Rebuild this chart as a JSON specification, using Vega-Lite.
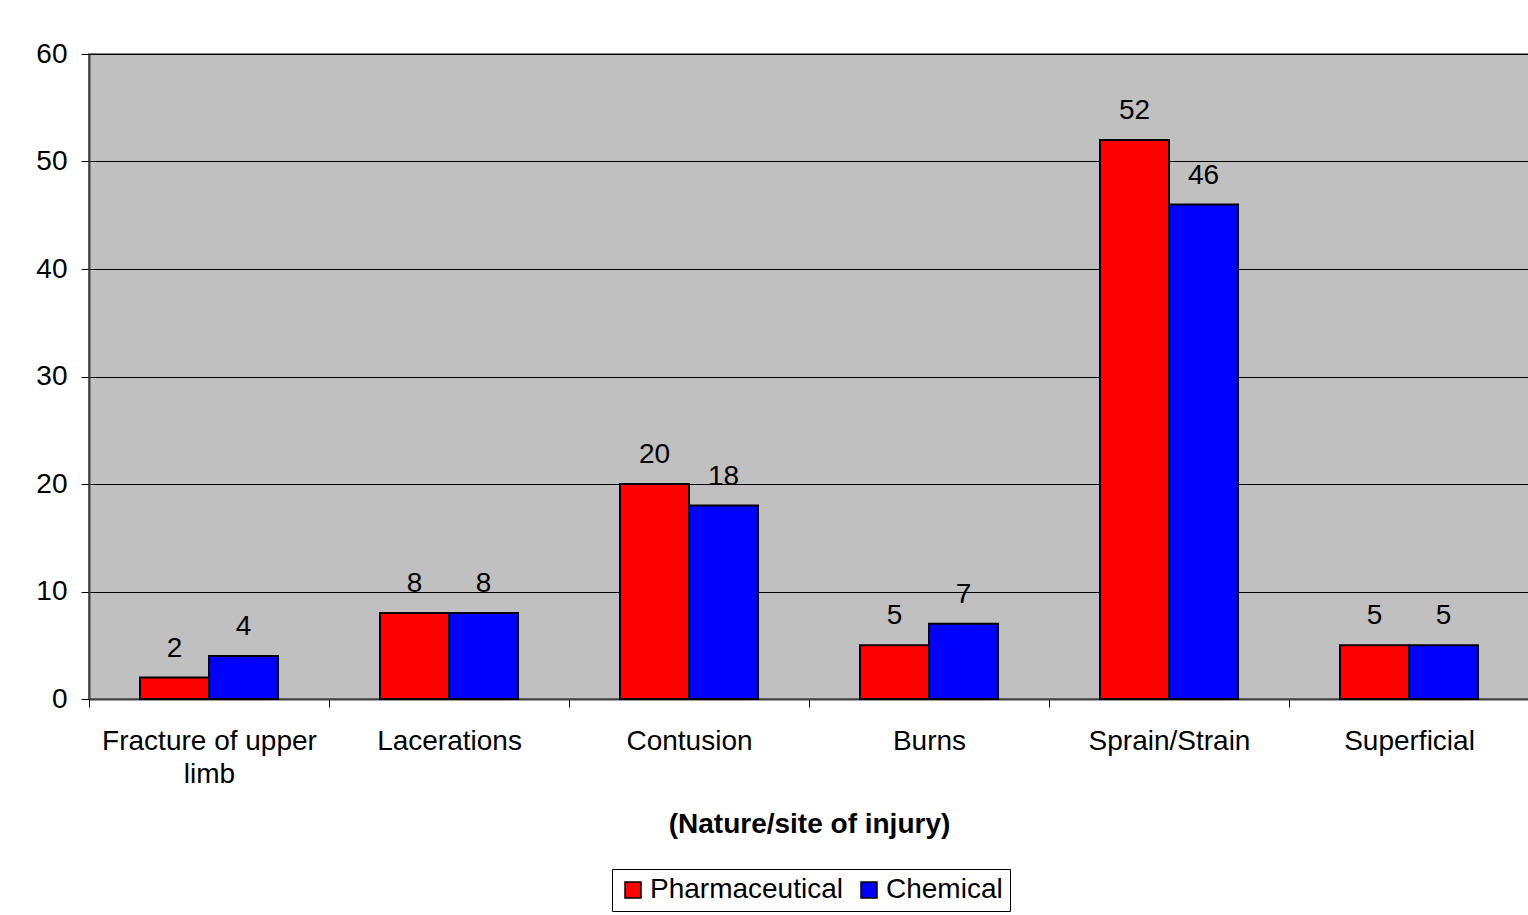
{
  "$schema": "https://vega.github.io/schema/vega-lite/v6.json",
  "autosize": "none",
  "width": 1440,
  "height": 645,
  "padding": {"left": 89, "top": 54, "right": 0, "bottom": 216},
  "background": "white",
  "config": {
    "font": "Liberation Sans",
    "view": {"fill": "#C0C0C0", "stroke": "#808080", "strokeWidth": 2}
  },
  "data": {
    "values": [
      {"injury": "Fracture of upper limb", "sector": "Pharmaceutical", "value": 2},
      {"injury": "Fracture of upper limb", "sector": "Chemical", "value": 4},
      {"injury": "Lacerations", "sector": "Pharmaceutical", "value": 8},
      {"injury": "Lacerations", "sector": "Chemical", "value": 8},
      {"injury": "Contusion", "sector": "Pharmaceutical", "value": 20},
      {"injury": "Contusion", "sector": "Chemical", "value": 18},
      {"injury": "Burns", "sector": "Pharmaceutical", "value": 5},
      {"injury": "Burns", "sector": "Chemical", "value": 7},
      {"injury": "Sprain/Strain", "sector": "Pharmaceutical", "value": 52},
      {"injury": "Sprain/Strain", "sector": "Chemical", "value": 46},
      {"injury": "Superficial", "sector": "Pharmaceutical", "value": 5},
      {"injury": "Superficial", "sector": "Chemical", "value": 5}
    ]
  },
  "encoding": {
    "x": {
      "field": "injury",
      "type": "nominal",
      "sort": ["Fracture of upper limb", "Lacerations", "Contusion", "Burns", "Sprain/Strain", "Superficial"],
      "scale": {"paddingInner": 0, "paddingOuter": 0},
      "axis": {
        "title": "(Nature/site of injury)",
        "titleFontSize": 28,
        "titleFontWeight": "bold",
        "titleColor": "black",
        "titlePadding": 22,
        "labelAngle": 0,
        "labelFontSize": 28,
        "labelColor": "black",
        "labelPadding": 20,
        "labelLineHeight": 33,
        "labelExpr": "datum.label == 'Fracture of upper limb' ? ['Fracture of upper', 'limb'] : datum.label",
        "labelLimit": 400,
        "tickBand": "extent",
        "tickSize": 8,
        "tickColor": "black",
        "domainColor": "#404040",
        "domainWidth": 2,
        "grid": false
      }
    },
    "xOffset": {
      "field": "sector",
      "type": "nominal",
      "sort": ["Pharmaceutical", "Chemical"],
      "scale": {"paddingInner": 0, "paddingOuter": 0.739}
    },
    "y": {
      "field": "value",
      "type": "quantitative",
      "scale": {"domain": [0, 60], "nice": false},
      "axis": {
        "title": null,
        "values": [0, 10, 20, 30, 40, 50, 60],
        "labelFontSize": 28,
        "labelColor": "black",
        "labelPadding": 14,
        "tickSize": 8,
        "tickColor": "black",
        "domainColor": "#404040",
        "domainWidth": 2,
        "grid": true,
        "gridColor": "black",
        "gridWidth": 1
      }
    }
  },
  "layer": [
    {
      "mark": {"type": "bar", "stroke": "black", "strokeWidth": 2},
      "encoding": {
        "color": {
          "field": "sector",
          "type": "nominal",
          "sort": ["Pharmaceutical", "Chemical"],
          "scale": {"domain": ["Pharmaceutical", "Chemical"], "range": ["#FF0000", "#0000FF"]},
          "legend": {
            "title": null,
            "orient": "none",
            "direction": "horizontal",
            "legendX": 523,
            "legendY": 815,
            "labelFontSize": 28,
            "labelColor": "black",
            "labelLimit": 400,
            "symbolType": "square",
            "symbolSize": 256,
            "symbolStrokeColor": "black",
            "symbolStrokeWidth": 1.5,
            "symbolOpacity": 1,
            "columnPadding": 12,
            "labelOffset": 3,
            "padding": 7,
            "strokeColor": "black",
            "fillColor": "white"
          }
        }
      }
    },
    {
      "mark": {"type": "text", "fontSize": 28, "color": "black", "baseline": "alphabetic", "dy": -21},
      "encoding": {"text": {"field": "value", "type": "quantitative"}}
    }
  ]
}
